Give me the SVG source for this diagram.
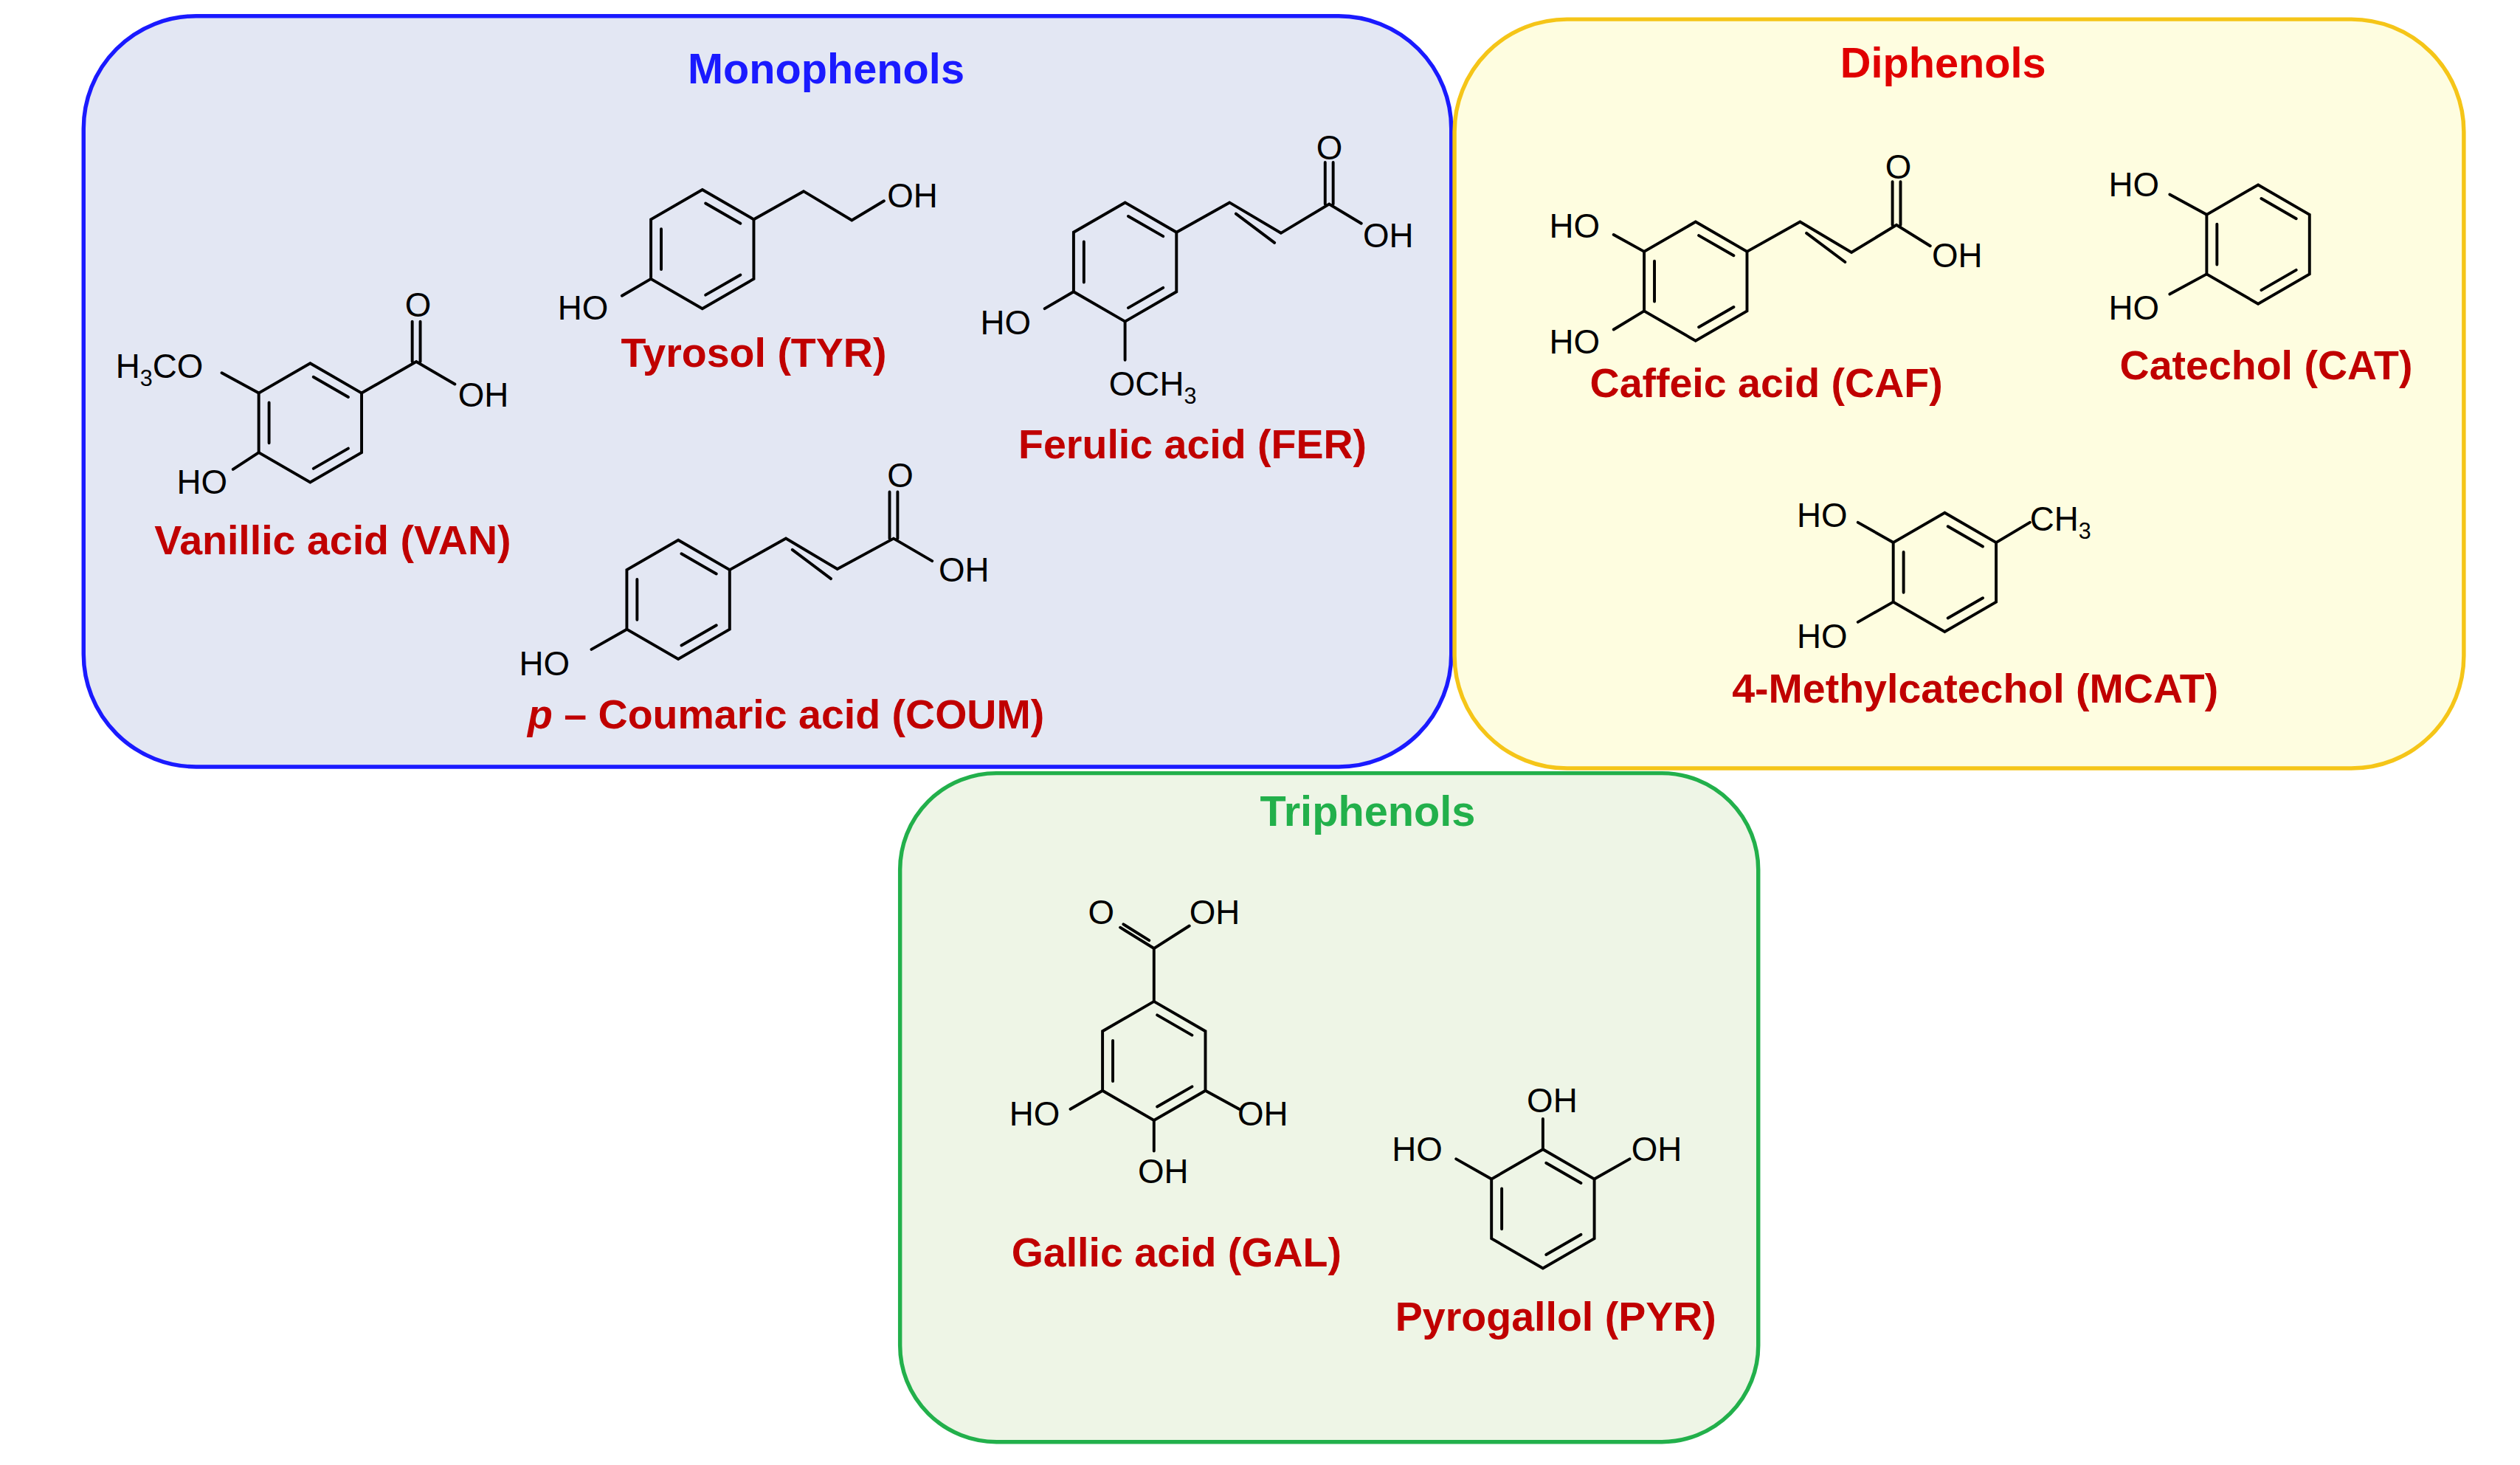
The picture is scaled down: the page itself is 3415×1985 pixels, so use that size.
<svg xmlns="http://www.w3.org/2000/svg" width="3415" height="1985" viewBox="0 0 3415 1985">
<style>
.b{stroke:#000;stroke-width:1.8;fill:none;stroke-linecap:round}
.t{font-family:"Liberation Sans",Arial,sans-serif;font-size:21px;fill:#000}
.s{font-size:14px}
.lab{font-family:"Liberation Sans",Arial,sans-serif;font-weight:bold;font-size:25.5px;fill:#c00000;text-anchor:middle}
.ttl{font-family:"Liberation Sans",Arial,sans-serif;font-weight:bold;font-size:26.5px;text-anchor:middle}
</style>
<defs>
<g id="ring">
<polygon class="b" points="0,-37 32,-18.5 32,18.5 0,37 -32,18.5 -32,-18.5"/>
<path class="b" d="M2,-28.5 L23.7,-16 M23.7,16 L2,28.5 M-25.6,12.6 L-25.6,-12.6"/>
</g>
</defs>
<rect width="3415" height="1985" fill="#fff"/>
<g transform="scale(2.178)">
<g id="monophenols">
<rect x="52" y="10" width="851" height="467" rx="70" fill="#e3e7f3" stroke="#1a1aff" stroke-width="2.5"/>
<text class="ttl" x="514" y="52" fill="#1a1aff">Monophenols</text>
</g>
<g id="diphenols">
<rect x="905" y="12" width="628" height="466" rx="70" fill="#fefde0" stroke="#f5c518" stroke-width="2.5"/>
<text class="ttl" x="1209" y="48" fill="#e00000">Diphenols</text>
</g>
<g id="triphenols">
<rect x="560" y="481" width="534" height="416" rx="60" fill="#eef5e6" stroke="#22b04b" stroke-width="2.5"/>
<text class="ttl" x="851" y="514" fill="#22b04b">Triphenols</text>
</g>

<g id="van">
<use href="#ring" x="193" y="263"/>
<path class="b" d="M161,244.5 L138,232 M161,281.5 L145,292 M225,244.5 L259,225 L283,239 M256.5,225 L256.5,200 M261.5,225 L261.5,200"/>
<text class="t" x="72" y="235">H<tspan class="s" dy="5">3</tspan><tspan dy="-5">CO</tspan></text>
<text class="t" x="110" y="307">HO</text>
<text class="t" x="252" y="197">O</text>
<text class="t" x="285" y="253">OH</text>
<text class="lab" x="207" y="345">Vanillic acid (VAN)</text>
</g>

<g id="tyr">
<use href="#ring" x="437" y="155"/>
<path class="b" d="M405,173.5 L387,184 M469,136.5 L500,119 L530,137 L550,125"/>
<text class="t" x="347" y="199">HO</text>
<text class="t" x="552" y="129">OH</text>
<text class="lab" x="469" y="228">Tyrosol (TYR)</text>
</g>

<g id="fer">
<use href="#ring" x="700" y="163"/>
<path class="b" d="M732,144.5 L765,126 L797,145 L827,127 L847,139 M769,133 L793,151 M824.5,127 L824.5,101 M829.5,127 L829.5,101 M668,181.5 L650,192 M700,200 L700,224"/>
<text class="t" x="819" y="99">O</text>
<text class="t" x="848" y="154">OH</text>
<text class="t" x="610" y="208">HO</text>
<text class="t" x="690" y="246">OCH<tspan class="s" dy="5">3</tspan></text>
<text class="lab" x="742" y="285">Ferulic acid (FER)</text>
</g>

<g id="coum">
<use href="#ring" x="422" y="373"/>
<path class="b" d="M454,354.5 L489,335 L521,354 L556,335 L580,349 M493,342 L517,360 M553.5,335 L553.5,306 M558.5,335 L558.5,306 M390,391.5 L368,404"/>
<text class="t" x="552" y="303">O</text>
<text class="t" x="584" y="362">OH</text>
<text class="t" x="323" y="420">HO</text>
<text class="lab" x="489" y="453"><tspan font-style="italic">p</tspan> – Coumaric acid (COUM)</text>
</g>

<g id="caf">
<use href="#ring" x="1055" y="175"/>
<path class="b" d="M1087,156.5 L1120,138 L1152,157 L1180,140 L1201,153 M1124,145 L1148,163 M1177.5,140 L1177.5,113 M1182.5,140 L1182.5,113 M1023,156.5 L1004,146 M1023,193.5 L1004,205"/>
<text class="t" x="1173" y="111">O</text>
<text class="t" x="1202" y="166">OH</text>
<text class="t" x="964" y="148">HO</text>
<text class="t" x="964" y="220">HO</text>
<text class="lab" x="1099" y="247">Caffeic acid (CAF)</text>
</g>

<g id="cat">
<use href="#ring" x="1405" y="152"/>
<path class="b" d="M1373,133.5 L1350,121 M1373,170.5 L1350,183"/>
<text class="t" x="1312" y="122">HO</text>
<text class="t" x="1312" y="199">HO</text>
<text class="lab" x="1410" y="236">Catechol (CAT)</text>
</g>

<g id="mcat">
<use href="#ring" x="1210" y="356"/>
<path class="b" d="M1242,337.5 L1263,325 M1178,337.5 L1156,325 M1178,374.5 L1156,387"/>
<text class="t" x="1263" y="330">CH<tspan class="s" dy="5">3</tspan></text>
<text class="t" x="1118" y="328">HO</text>
<text class="t" x="1118" y="403">HO</text>
<text class="lab" x="1229" y="437">4-Methylcatechol (MCAT)</text>
</g>

<g id="gal">
<use href="#ring" x="718" y="660"/>
<path class="b" d="M718,623 L718,590 L740,576 M718,590 L697,577 M715,585 L699,575 M686,678.5 L666,690 M750,678.5 L771,690 M718,697 L718,716"/>
<text class="t" x="677" y="575">O</text>
<text class="t" x="740" y="575">OH</text>
<text class="t" x="628" y="700">HO</text>
<text class="t" x="770" y="700">OH</text>
<text class="t" x="708" y="736">OH</text>
<text class="lab" x="732" y="788">Gallic acid (GAL)</text>
</g>

<g id="pyr">
<use href="#ring" x="960" y="752"/>
<path class="b" d="M928,733.5 L906,721 M960,715 L960,696 M992,733.5 L1014,721"/>
<text class="t" x="866" y="722">HO</text>
<text class="t" x="950" y="692">OH</text>
<text class="t" x="1015" y="722">OH</text>
<text class="lab" x="968" y="828">Pyrogallol (PYR)</text>
</g>
<g id="connectors"/>
</g>
</svg>
